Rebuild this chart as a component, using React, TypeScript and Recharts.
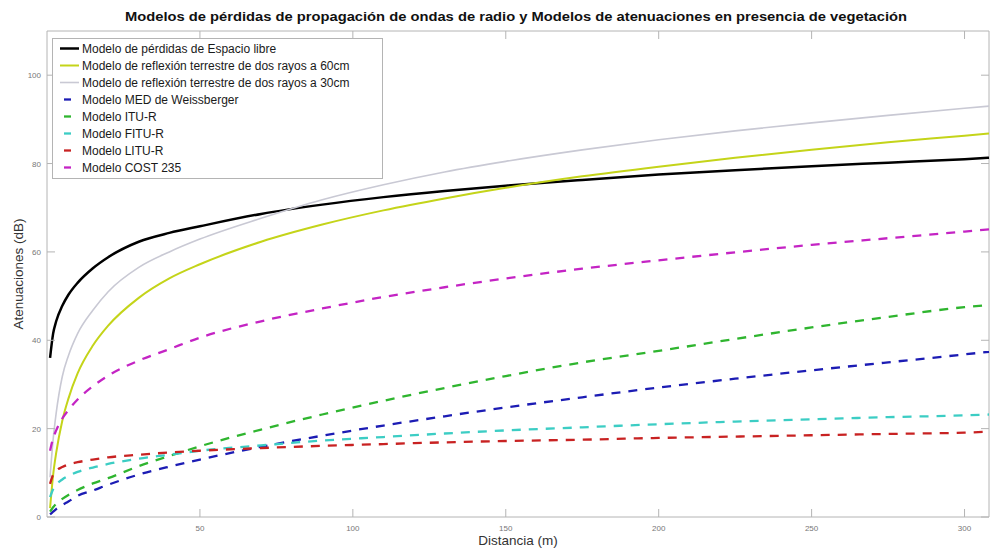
import { LineChart, Line, XAxis, YAxis, Legend, ReferenceArea } from 'recharts'

// distancia (m) y atenuaciones (dB)
const distancias = [1, 2, 3, 5, 7, 10, 15, 20, 30, 40, 50, 70, 90, 110, 130, 150, 175, 200, 225, 250, 275, 300, 308]
const espacioLibre = [36, 41.5, 44.3, 47.8, 50.3, 53, 56.3, 58.8, 62.3, 64.3, 65.8, 68.6, 70.7, 72.4, 73.8, 75.0, 76.3, 77.5, 78.5, 79.4, 80.2, 81.0, 81.3]
const dosRayos60 = [2, 9.5, 14.5, 21.8, 26.8, 32.5, 38.8, 43.3, 49.6, 54.0, 57.2, 62.3, 66.2, 69.4, 72.1, 74.5, 77.1, 79.3, 81.3, 83.1, 84.8, 86.3, 86.8]
const dosRayos30 = [9, 17.5, 23.5, 31.8, 36.5, 41.5, 46.8, 51.0, 56.5, 60.0, 62.9, 67.6, 71.8, 75.2, 78.1, 80.5, 83.1, 85.4, 87.4, 89.2, 90.9, 92.5, 93.0]
const weissberger = [0.6, 1.2, 1.8, 2.7, 3.5, 4.8, 6.0, 7.3, 9.6, 11.4, 13.0, 15.9, 18.4, 20.7, 22.8, 24.8, 27.1, 29.3, 31.3, 33.2, 35.0, 36.8, 37.4]
const ituR = [1.2, 2.2, 3.0, 4.1, 5.0, 6.1, 7.6, 8.8, 11.5, 13.8, 16.0, 19.8, 23.2, 26.3, 29.2, 31.9, 35.0, 37.6, 40.3, 42.9, 45.3, 47.5, 48.0]
const fituR = [4.5, 6.3, 7.3, 8.5, 9.3, 10.2, 11.2, 12.0, 13.2, 14.1, 15.0, 16.2, 17.3, 18.1, 18.9, 19.6, 20.3, 21.0, 21.6, 22.1, 22.6, 23.0, 23.2]
const lituR = [7.5, 9.6, 10.5, 11.3, 11.9, 12.4, 13.0, 13.5, 14.1, 14.6, 15.0, 15.6, 16.1, 16.5, 16.9, 17.2, 17.5, 17.9, 18.2, 18.5, 18.8, 19.1, 19.3]
const cost235 = [15, 17.8, 19.6, 22.3, 24.2, 26.6, 29.6, 32, 35.4, 38, 40.6, 44.3, 47.2, 49.8, 52, 54, 56.2, 58.1, 59.9, 61.6, 63.1, 64.6, 65.1]

const xTicks = [50, 100, 150, 200, 250, 300]
const yTicks = [0, 20, 40, 60, 80, 100]

const series = [
  { key: 'libre', nombre: 'Modelo de pérdidas de Espacio libre', valores: espacioLibre, color: '#000000', ancho: 2.5, dash: '' },
  { key: 'r60', nombre: 'Modelo de reflexión terrestre de dos rayos a 60cm', valores: dosRayos60, color: '#c4d419', ancho: 2, dash: '' },
  { key: 'r30', nombre: 'Modelo de reflexión terrestre de dos rayos a 30cm', valores: dosRayos30, color: '#c9c9d4', ancho: 1.6, dash: '' },
  { key: 'med', nombre: 'Modelo MED de Weissberger', valores: weissberger, color: '#1c1cb4', ancho: 2.3, dash: '9 8' },
  { key: 'itu', nombre: 'Modelo ITU-R', valores: ituR, color: '#2fb52f', ancho: 2.3, dash: '9 8' },
  { key: 'fitu', nombre: 'Modelo FITU-R', valores: fituR, color: '#3ccdc4', ancho: 2.3, dash: '9 8' },
  { key: 'litu', nombre: 'Modelo LITU-R', valores: lituR, color: '#c82222', ancho: 2.3, dash: '9 8' },
  { key: 'cost', nombre: 'Modelo COST 235', valores: cost235, color: '#c424c4', ancho: 2.3, dash: '9 8' },
]

const data = distancias.map((d, i) => {
  const fila: Record<string, number> = { d }
  series.forEach(s => { fila[s.key] = s.valores[i] })
  return fila
})

const FUENTE = "'Liberation Sans', Arial, Helvetica, sans-serif"
const TOP = 31, BOTTOM = 517, LEFT = 47, RIGHT = 989
const EJE = '#b4b4b4'

const TickX = ({ x, payload }: any) => (
  <g>
    <line x1={x} x2={x} y1={BOTTOM} y2={BOTTOM - 8} stroke={EJE} />
    <line x1={x} x2={x} y1={TOP} y2={TOP + 8} stroke={EJE} />
    <text x={x} y={BOTTOM + 14} textAnchor="middle" fontSize={8} fill="#777" fontFamily={FUENTE}>{payload.value}</text>
  </g>
)

const TickY = ({ y, payload }: any) => (
  <g>
    <line x1={LEFT} x2={LEFT + 8} y1={y} y2={y} stroke={EJE} />
    <line x1={RIGHT} x2={RIGHT - 8} y1={y} y2={y} stroke={EJE} />
    <text x={LEFT - 6} y={y + 3} textAnchor="end" fontSize={8} fill="#777" fontFamily={FUENTE}>{payload.value}</text>
  </g>
)

const Leyenda = () => (
  <div style={{ border: `1px solid ${EJE}`, background: '#fff', padding: '1px 0 2px 0', fontFamily: FUENTE }}>
    {series.map(s => (
      <div key={s.key} style={{ display: 'flex', alignItems: 'center', height: 17 }}>
        <svg width={29} height={17} style={{ flex: 'none' }}>
          {s.dash
            ? <line x1={11} x2={18} y1={8.5} y2={8.5} stroke={s.color} strokeWidth={2.3} />
            : <line x1={7} x2={26} y1={8.5} y2={8.5} stroke={s.color} strokeWidth={s.ancho} />}
        </svg>
        <span style={{ fontSize: 12, color: '#1a1a1a', whiteSpace: 'nowrap' }}>{s.nombre}</span>
      </div>
    ))}
  </div>
)

export default function App() {
  return (
    <div style={{ position: 'absolute', left: 0, top: 0, width: 990, height: 554, background: '#fff', overflow: 'hidden' }}>
      <LineChart width={990} height={554} data={data} margin={{ top: TOP, right: 990 - RIGHT, bottom: 7, left: 0 }}>
        <XAxis type="number" dataKey="d" domain={[0, 308]} ticks={xTicks} interval={0} height={30}
          axisLine={false} tickLine={false} tick={<TickX />} />
        <YAxis type="number" domain={[0, 110]} ticks={yTicks} interval={0} width={LEFT}
          axisLine={false} tickLine={false} tick={<TickY />} />
        <ReferenceArea x1={0} x2={308} y1={0} y2={110} fill="none" stroke={EJE} strokeWidth={1} />
        {series.map(s => (
          <Line key={s.key} type="monotone" dataKey={s.key} name={s.nombre} stroke={s.color} strokeWidth={s.ancho}
            strokeDasharray={s.dash || undefined} dot={false} activeDot={false} isAnimationActive={false} />
        ))}
        <Legend layout="horizontal" verticalAlign="middle" align="center" content={<Leyenda />}
          wrapperStyle={{ left: 52, top: 38, width: 331, height: 'auto' }} />
      </LineChart>
      <svg width={990} height={554} style={{ position: 'absolute', left: 0, top: 0, pointerEvents: 'none' }}>
        <text x={516} y={21} textAnchor="middle" fontSize={12.5} fontWeight="bold" fill="#111" fontFamily={FUENTE}
          textLength={782} lengthAdjust="spacingAndGlyphs">
          Modelos de pérdidas de propagación de ondas de radio y Modelos de atenuaciones en presencia de vegetación
        </text>
        <text x={518} y={545} textAnchor="middle" fontSize={13.5} fill="#333" fontFamily={FUENTE}>Distancia (m)</text>
        <text x={23} y={274} textAnchor="middle" fontSize={13.5} fill="#333" fontFamily={FUENTE}
          transform="rotate(-90 23 274)">Atenuaciones (dB)</text>
      </svg>
    </div>
  )
}
